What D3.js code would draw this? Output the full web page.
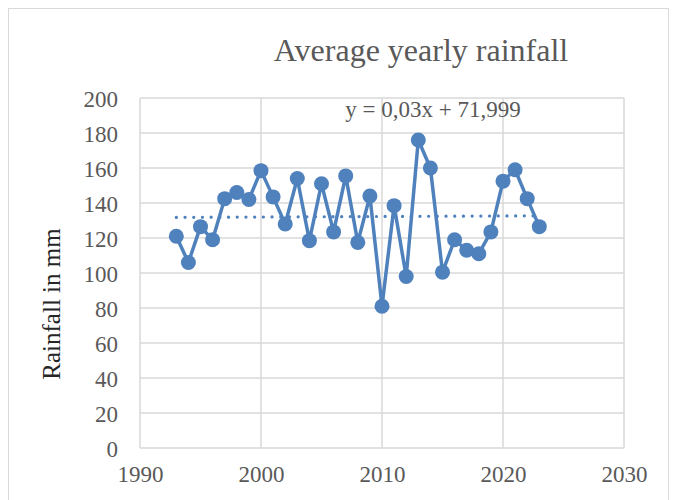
<!DOCTYPE html>
<html>
  <head>
    <style>
      body { margin: 0; background: #fff; }
      .grid line { stroke: #d9d9d9; stroke-width: 1.5; }
      .axis path, .axis line { display: none; }
    </style>
  </head>
  <body>
    <svg class="chart" width="678" height="500"></svg>

    <script src="https://d3js.org/d3.v7.min.js"></script>
    <script type="text/javascript">
      const years = [1993, 1994, 1995, 1996, 1997, 1998, 1999, 2000, 2001, 2002, 2003,
        2004, 2005, 2006, 2007, 2008, 2009, 2010, 2011, 2012, 2013, 2014, 2015, 2016,
        2017, 2018, 2019, 2020, 2021, 2022, 2023];
      const rainfall = [121, 106, 126.5, 119, 142.5, 146, 142, 158.5, 143.5, 128, 154,
        118.5, 151, 123.5, 155.5, 117.5, 144, 81, 138.5, 98, 176, 160, 100.5, 119,
        113, 111, 123.5, 152.5, 159, 142.5, 126.5];
      const xTicks = [1990, 2000, 2010, 2020, 2030];
      const yTicks = [0, 20, 40, 60, 80, 100, 120, 140, 160, 180, 200];
      const trendSlope = 0.03;
      const trendIntercept = 71.999;
      const trendLabel = "y = 0,03x + 71,999";
      const title = "Average yearly rainfall";
      const yTitle = "Rainfall in mm";

      (function() {
        const font = "'Liberation Serif', 'Times New Roman', 'DejaVu Serif', serif";
        const svg = d3.select('.chart');
        const left = 140, right = 624, top = 98, bottom = 448;
        const blue = "#4f81bd";

        // chart frame
        svg.append("rect")
          .attr("x", 8.5).attr("y", 8.5)
          .attr("width", 660).attr("height", 500)
          .attr("fill", "none").attr("stroke", "#d9d9d9").attr("stroke-width", 1);

        const x = d3.scaleLinear().domain([1990, 2030]).range([left, right]);
        const y = d3.scaleLinear().domain([0, 200]).range([bottom, top]);

        const grid = svg.append("g").attr("class", "grid");
        grid.selectAll(".h").data(yTicks).enter().append("line")
          .attr("x1", left).attr("x2", right)
          .attr("y1", d => y(d)).attr("y2", d => y(d));
        grid.selectAll(".v").data(xTicks).enter().append("line")
          .attr("y1", top).attr("y2", bottom)
          .attr("x1", d => x(d)).attr("x2", d => x(d));

        svg.append("g").attr("class", "axis")
          .attr("transform", "translate(" + (left - 6) + ",0)")
          .call(d3.axisLeft(y).tickValues(yTicks).tickSize(0).tickPadding(16))
          .attr("font-family", null)
          .selectAll("text").style("font-family", font).style("fill", "#595959")
          .style("font-size", "23px").attr("dy", "0.35em");

        svg.append("g").attr("class", "axis")
          .attr("transform", "translate(0," + bottom + ")")
          .call(d3.axisBottom(x).tickValues(xTicks).tickFormat(d3.format("d")).tickSize(0).tickPadding(18))
          .attr("font-family", null)
          .selectAll("text").style("font-family", font).style("fill", "#595959")
          .style("font-size", "23px");

        // trendline
        const trend = [years[0], years[years.length - 1]];
        svg.append("line")
          .attr("x1", x(trend[0])).attr("y1", y(trendSlope * trend[0] + trendIntercept))
          .attr("x2", x(trend[1])).attr("y2", y(trendSlope * trend[1] + trendIntercept))
          .attr("stroke", blue).attr("stroke-width", 3.2)
          .attr("stroke-dasharray", "0.1,8.6").attr("stroke-linecap", "round");

        const data = years.map((d, i) => [d, rainfall[i]]);
        svg.append("path").datum(data)
          .attr("fill", "none").attr("stroke", blue).attr("stroke-width", 3.5)
          .attr("stroke-linejoin", "round")
          .attr("d", d3.line().x(d => x(d[0])).y(d => y(d[1])));

        svg.selectAll(".pt").data(data).enter().append("circle")
          .attr("cx", d => x(d[0])).attr("cy", d => y(d[1]))
          .attr("r", 7.5).attr("fill", blue);

        svg.append("text").attr("x", 421).attr("y", 61)
          .attr("text-anchor", "middle").style("font-family", font).style("fill", "#595959")
          .style("font-size", "32px").text(title);

        svg.append("text").attr("x", 433).attr("y", 117)
          .attr("text-anchor", "middle").style("font-family", font).style("fill", "#595959")
          .style("font-size", "23px").text(trendLabel);

        svg.append("text")
          .attr("transform", "translate(60,304) rotate(-90)")
          .attr("text-anchor", "middle").style("font-family", font).style("fill", "#262626")
          .style("font-size", "25px").text(yTitle);
      })()
    </script>
  </body>
</html>
